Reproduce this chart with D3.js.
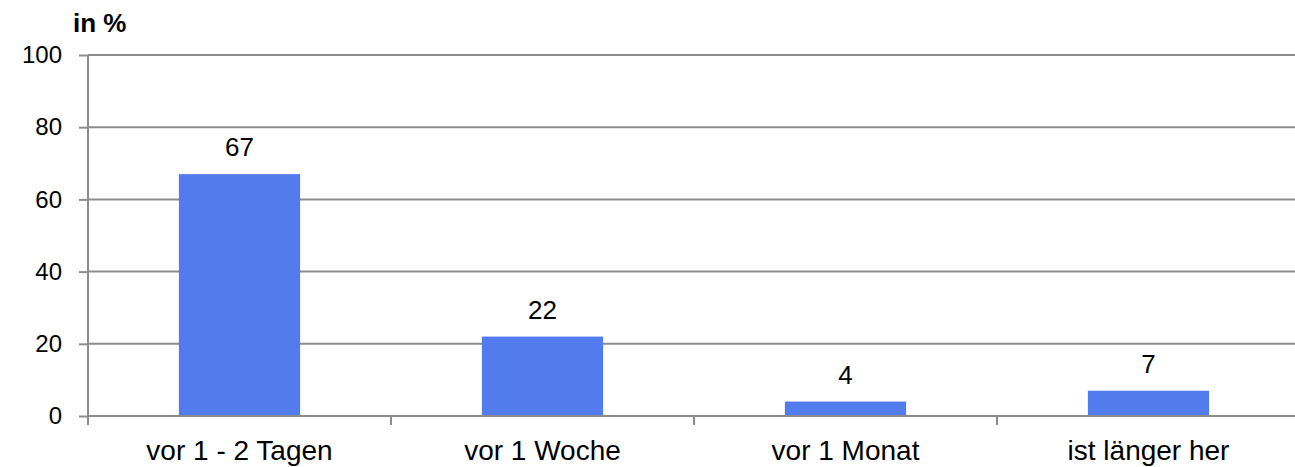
<!DOCTYPE html>
<html><head><meta charset="utf-8">
<script src="https://cdn.jsdelivr.net/npm/d3@7"></script>
<style>body{margin:0;background:#fff}svg{display:block;font-family:"Liberation Sans",Arial,sans-serif}</style>
</head><body><svg id="c" width="1295" height="467"></svg>
<script>
const categories = ["vor 1 - 2 Tagen","vor 1 Woche","vor 1 Monat","ist länger her"];
const values = [67,22,4,7];
const yTicks = [0,20,40,60,80,100];
(function(){
const svg = d3.select("#c");
const pl = 88, pr = 1300, pt = 55, pb = 416;
const x = d3.scaleBand().domain(categories).range([pl,pr]).paddingInner(0.6).paddingOuter(0.3);
const xb = d3.scaleBand().domain(categories).range([pl,pr]);
const y = d3.scaleLinear().domain([0,100]).range([pb,pt]);
const grid = "#8c8c8c";
svg.append("g").selectAll("line").data(yTicks.filter(d=>d>0)).join("line")
 .attr("x1",pl).attr("x2",1295).attr("y1",d=>y(d)).attr("y2",d=>y(d))
 .attr("stroke",grid).attr("stroke-width",2);
const ya = svg.append("g").attr("transform",`translate(${pl},0)`)
 .call(d3.axisLeft(y).tickValues(yTicks).tickSize(9).tickPadding(17));
ya.select(".domain").attr("stroke",grid).attr("stroke-width",2).attr("d",`M0,${pt}V${pb}`);
ya.selectAll(".tick line").attr("stroke",grid).attr("stroke-width",2);
ya.selectAll("text").attr("font-size",24).attr("fill","#000").attr("font-family","Liberation Sans, Arial, sans-serif");
svg.append("g").selectAll("rect").data(values).join("rect")
 .attr("x",(d,i)=>x(categories[i])).attr("width",x.bandwidth())
 .attr("y",d=>y(d)).attr("height",d=>pb-y(d)).attr("fill","#527bee");
svg.append("line").attr("x1",pl).attr("x2",1295).attr("y1",pb).attr("y2",pb).attr("stroke",grid).attr("stroke-width",2);
const bounds = categories.map(c=>xb(c)).concat([pr]);
svg.append("g").selectAll("line").data(bounds).join("line")
 .attr("x1",d=>d).attr("x2",d=>d).attr("y1",pb).attr("y2",pb+9).attr("stroke",grid).attr("stroke-width",2);
svg.append("g").selectAll("text").data(categories).join("text")
 .attr("x",d=>xb(d)+xb.bandwidth()/2).attr("y",460).attr("text-anchor","middle")
 .attr("font-size",28).text(d=>d);
svg.append("g").selectAll("text").data(values).join("text")
 .attr("x",(d,i)=>x(categories[i])+x.bandwidth()/2).attr("y",d=>y(d)-18)
 .attr("text-anchor","middle").attr("font-size",26).text(d=>d);
svg.append("text").attr("x",73).attr("y",32).attr("font-size",26).attr("font-weight","bold").text("in %");
})();
</script></body></html>
